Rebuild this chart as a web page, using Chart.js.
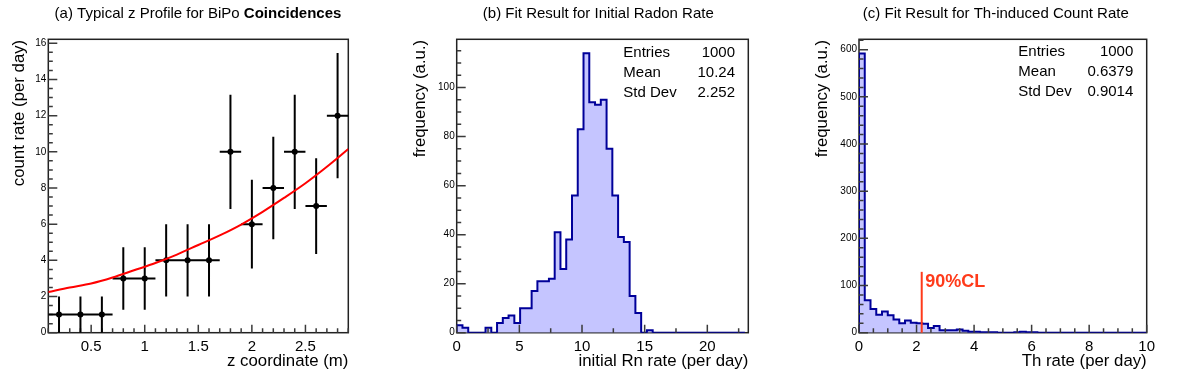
<!DOCTYPE html>
<html><head><meta charset="utf-8">
<script src="https://cdn.jsdelivr.net/npm/chart.js@4.4.1/dist/chart.umd.min.js"></script>
<style>
html,body{margin:0;padding:0;background:#fff;}
#wrap{position:relative;width:1198px;height:375px;overflow:hidden;background:#fff;}
canvas{position:absolute;top:0;}
</style></head><body>
<div id="wrap">
<canvas id="ca" width="400" height="375" style="left:0px"></canvas>
<canvas id="cb" width="400" height="375" style="left:400px"></canvas>
<canvas id="cc" width="398" height="375" style="left:800px"></canvas>
</div>
<script>
// ---------- Panel (a) data ----------
const zCoord     = [0.2, 0.4, 0.6, 0.8, 1.0, 1.2, 1.4, 1.6, 1.8, 2.0, 2.2, 2.4, 2.6, 2.8];
const countRate  = [1, 1, 1, 3, 3, 4, 4, 4, 10, 6, 8, 10, 7, 12];
const zError     = [0.1, 0.1, 0.1, 0.1, 0.1, 0.1, 0.1, 0.1, 0.1, 0.1, 0.1, 0.1, 0.1, 0.1];
const rateError  = [1, 1, 1, 1.73, 1.73, 2, 2, 2, 3.16, 2.45, 2.83, 3.16, 2.65, 3.46];
const fitZ       = [0.1, 0.3, 0.5, 0.7, 0.9, 1.1, 1.3, 1.5, 1.7, 1.9, 2.1, 2.3, 2.5, 2.7, 2.9];
const fitRate    = [2.25, 2.5, 2.72, 3.05, 3.45, 3.85, 4.32, 4.85, 5.38, 5.98, 6.68, 7.45, 8.26, 9.17, 10.15];
const zTicks     = [0.5, 1, 1.5, 2, 2.5];
const rateTicks  = [0, 2, 4, 6, 8, 10, 12, 14, 16];

// ---------- Panel (b) data ----------
const rnBinLow   = 0;
const rnBinWidth = 0.46;
const rnCounts   = [3, 2, 0, 0, 0, 2, 0, 4, 6, 7,
                    4, 10, 10, 17, 21, 21, 22, 41, 26, 38,
                    56, 83, 114, 94, 93, 95, 75, 56, 39, 37,
                    15, 8, 0, 1, 0, 0, 0, 0, 0, 0,
                    0, 0, 0, 0, 0, 0, 0, 0, 0, 0];
const rnTicksX   = [0, 5, 10, 15, 20];
const rnTicksY   = [0, 20, 40, 60, 80, 100];
const statLabels = ['Entries', 'Mean', 'Std Dev'];
const rnStats    = ['1000', '10.24', '2.252'];

// ---------- Panel (c) data ----------
const thBinLow   = 0;
const thBinWidth = 0.2;
const thCounts   = [592, 69, 50, 38, 45, 37, 28, 20, 26, 21,
                    20, 19, 10, 14, 5, 5, 5, 7, 4, 2,
                    2, 1, 1, 1, 0, 0, 0, 1, 2, 1,
                    1, 0, 0, 0, 0, 0, 0, 0, 0, 0,
                    0, 0, 0, 0, 0, 0, 0, 0, 0, 0];
const thTicksX   = [0, 2, 4, 6, 8, 10];
const thTicksY   = [0, 100, 200, 300, 400, 500, 600];
const thStats    = ['1000', '0.6379', '0.9014'];
const cl90Value  = 2.18;
const cl90Top    = 129;
const cl90Label  = '90%CL';

// ---------- helpers ----------
const FONT = '"Liberation Sans", Arial, Helvetica, sans-serif';
const TOP = 39.3, XAXIS_H = 42.3, YAXIS_W = 40;

function histPoints(low, width, counts) {
  const pts = [{x: low, y: 0}];
  counts.forEach((c, i) => pts.push({x: low + i * width, y: c}));
  const end = low + counts.length * width;
  pts.push({x: end, y: counts[counts.length - 1]});
  pts.push({x: end, y: 0});
  return pts;
}

function axis(min, max, vals, size, pad, isX) {
  return {
    type: 'linear', min: min, max: max,
    afterBuildTicks: s => { s.ticks = vals.map(v => ({value: v})); },
    afterFit: s => { if (isX) s.height = XAXIS_H; else s.width = YAXIS_W; },
    grid: {display: false, drawTicks: false},
    border: {display: false},
    ticks: {autoSkip: false, maxRotation: 0, minRotation: 0, padding: pad, color: '#000',
            font: {family: FONT, size: size}, callback: v => String(v)}
  };
}

function drawFrame(chart) {
  const {ctx, chartArea: a} = chart;
  ctx.save();
  ctx.strokeStyle = '#222'; ctx.lineWidth = 1.5;
  ctx.strokeRect(a.left, a.top, a.right - a.left, a.bottom - a.top);
  ctx.restore();
}

function drawTicks(chart, t) {
  const {ctx, chartArea: a, scales: {x, y}} = chart;
  ctx.save();
  ctx.strokeStyle = '#3a3a3a'; ctx.lineWidth = 1.5;
  ctx.beginPath();
  const k0x = Math.ceil(x.min / t.xMinor - 1e-6), k1x = Math.floor(x.max / t.xMinor + 1e-6);
  for (let k = k0x; k <= k1x; k++) {
    const v = k * t.xMinor;
    const r = v / t.xMajor;
    const major = Math.abs(r - Math.round(r)) < 1e-6;
    const px = x.getPixelForValue(v);
    ctx.moveTo(px, a.bottom); ctx.lineTo(px, a.bottom - (major ? 8 : 4.5));
  }
  const k0y = Math.ceil(y.min / t.yMinor - 1e-6), k1y = Math.floor(y.max / t.yMinor + 1e-6);
  for (let k = k0y; k <= k1y; k++) {
    const v = k * t.yMinor;
    const r = v / t.yMajor;
    const major = Math.abs(r - Math.round(r)) < 1e-6;
    const py = y.getPixelForValue(v);
    ctx.moveTo(a.left, py); ctx.lineTo(a.left + (major ? 9 : 4.5), py);
  }
  ctx.stroke();
  ctx.restore();
}

function drawTitle(chart, parts, cx) {
  const ctx = chart.ctx;
  ctx.save();
  ctx.fillStyle = '#000'; ctx.textBaseline = 'middle'; ctx.textAlign = 'left';
  let total = 0;
  parts.forEach(p => { ctx.font = (p.bold ? 'bold ' : '') + '15px ' + FONT; total += ctx.measureText(p.text).width; });
  let x0 = cx - total / 2;
  parts.forEach(p => {
    ctx.font = (p.bold ? 'bold ' : '') + '15px ' + FONT;
    ctx.fillText(p.text, x0, 14);
    x0 += ctx.measureText(p.text).width;
  });
  ctx.restore();
}

function drawAxisTitles(chart, xt, yt, ycx) {
  const {ctx, chartArea: a} = chart;
  ctx.save();
  ctx.fillStyle = '#000';
  ctx.font = '16.8px ' + FONT;
  ctx.textBaseline = 'middle'; ctx.textAlign = 'right';
  ctx.fillText(xt, a.right, 361.5);
  ctx.translate(ycx, a.top + 0.5);
  ctx.rotate(-Math.PI / 2);
  ctx.fillText(yt, 0, 0);
  ctx.restore();
}

function drawStats(chart, labels, values, lx, rx, ys) {
  const ctx = chart.ctx;
  ctx.save();
  ctx.fillStyle = '#000'; ctx.font = '15px ' + FONT; ctx.textBaseline = 'middle';
  labels.forEach((l, i) => {
    ctx.textAlign = 'left'; ctx.fillText(l, lx, ys[i]);
    ctx.textAlign = 'right'; ctx.fillText(values[i], rx, ys[i]);
  });
  ctx.restore();
}

function baseOptions(padLeft, padRight) {
  return {
    responsive: false, animation: false, devicePixelRatio: 1,
    layout: {padding: {left: padLeft, right: padRight, top: TOP, bottom: 0}},
    plugins: {legend: {display: false}, tooltip: {enabled: false}, title: {display: false}}
  };
}

// ---------- Panel (a) ----------
const optsA = baseOptions(48.3 - YAXIS_W, 400 - 348.3);
optsA.scales = {x: axis(0.1, 2.9, zTicks, 15, 5, true), y: axis(0, 16.22, rateTicks, 10, 2, false)};
new Chart(document.getElementById('ca'), {
  type: 'scatter',
  data: {datasets: [
    {data: fitZ.map((z, i) => ({x: z, y: fitRate[i]})), showLine: true, borderColor: '#ff0000',
     borderWidth: 2, pointRadius: 0, cubicInterpolationMode: 'monotone', fill: false},
    {data: zCoord.map((z, i) => ({x: z, y: countRate[i]})), pointRadius: 3, pointBackgroundColor: '#000',
     pointBorderColor: '#000', pointBorderWidth: 0, showLine: false}
  ]},
  options: optsA,
  plugins: [{
    id: 'rootA',
    beforeDatasetsDraw(chart) {
      drawFrame(chart);
      drawTicks(chart, {xMinor: 0.1, xMajor: 0.5, yMinor: 0.5, yMajor: 2});
      const {ctx, scales: {x, y}} = chart;
      ctx.save(); ctx.strokeStyle = '#000'; ctx.lineWidth = 2; ctx.beginPath();
      zCoord.forEach((z, i) => {
        const px = x.getPixelForValue(z), py = y.getPixelForValue(countRate[i]);
        ctx.moveTo(px, y.getPixelForValue(countRate[i] - rateError[i]));
        ctx.lineTo(px, y.getPixelForValue(countRate[i] + rateError[i]));
        ctx.moveTo(x.getPixelForValue(z - zError[i]), py);
        ctx.lineTo(x.getPixelForValue(z + zError[i]), py);
      });
      ctx.stroke(); ctx.restore();
    },
    afterDraw(chart) {
      drawTitle(chart, [{text: '(a) Typical z Profile for BiPo ', bold: false}, {text: 'Coincidences', bold: true}], 198);
      drawAxisTitles(chart, 'z coordinate (m)', 'count rate (per day)', 19.5);
    }
  }]
});

// ---------- Panel (b) ----------
const optsB = baseOptions(56.7 - YAXIS_W, 400 - 348.3);
optsB.scales = {x: axis(0, 23.27, rnTicksX, 15, 5, true), y: axis(0, 119.7, rnTicksY, 10, 2, false)};
new Chart(document.getElementById('cb'), {
  type: 'scatter',
  data: {datasets: [
    {data: histPoints(rnBinLow, rnBinWidth, rnCounts), showLine: true, stepped: true,
     borderColor: '#000099', borderWidth: 2, backgroundColor: '#c5c5ff', fill: 'origin', pointRadius: 0}
  ]},
  options: optsB,
  plugins: [{
    id: 'rootB',
    beforeDatasetsDraw(chart) { drawFrame(chart); },
    afterDatasetsDraw(chart) { drawTicks(chart, {xMinor: 2.5, xMajor: 5, yMinor: 5, yMajor: 20}); },
    afterDraw(chart) {
      drawTitle(chart, [{text: '(b) Fit Result for Initial Radon Rate', bold: false}], 198.3);
      drawAxisTitles(chart, 'initial Rn rate (per day)', 'frequency (a.u.)', 20.7);
      drawStats(chart, statLabels, rnStats, 223.3, 335, [53, 73, 92.5]);
    }
  }]
});

// ---------- Panel (c) ----------
const optsC = baseOptions(59 - YAXIS_W, 398 - 346.7);
optsC.scales = {x: axis(0, 10, thTicksX, 15, 5, true), y: axis(0, 622, thTicksY, 10, 2, false)};
new Chart(document.getElementById('cc'), {
  type: 'scatter',
  data: {datasets: [
    {data: histPoints(thBinLow, thBinWidth, thCounts), showLine: true, stepped: true,
     borderColor: '#000099', borderWidth: 2, backgroundColor: '#c5c5ff', fill: 'origin', pointRadius: 0}
  ]},
  options: optsC,
  plugins: [{
    id: 'rootC',
    beforeDatasetsDraw(chart) { drawFrame(chart); },
    afterDatasetsDraw(chart) {
      drawTicks(chart, {xMinor: 0.5, xMajor: 2, yMinor: 20, yMajor: 100});
      const {ctx, scales: {x, y}} = chart;
      const px = x.getPixelForValue(cl90Value);
      ctx.save();
      ctx.strokeStyle = '#ff3a1a'; ctx.lineWidth = 2;
      ctx.beginPath(); ctx.moveTo(px, y.getPixelForValue(0)); ctx.lineTo(px, y.getPixelForValue(cl90Top)); ctx.stroke();
      ctx.fillStyle = '#ff3a1a'; ctx.font = 'bold 18px ' + FONT; ctx.textAlign = 'left'; ctx.textBaseline = 'middle';
      ctx.fillText(cl90Label, px + 3.5, 282);
      ctx.restore();
    },
    afterDraw(chart) {
      drawTitle(chart, [{text: '(c) Fit Result for Th-induced Count Rate', bold: false}], 195.8);
      drawAxisTitles(chart, 'Th rate (per day)', 'frequency (a.u.)', 22);
      drawStats(chart, statLabels, thStats, 218.3, 333.3, [52, 72, 92]);
    }
  }]
});
</script>
</body></html>
